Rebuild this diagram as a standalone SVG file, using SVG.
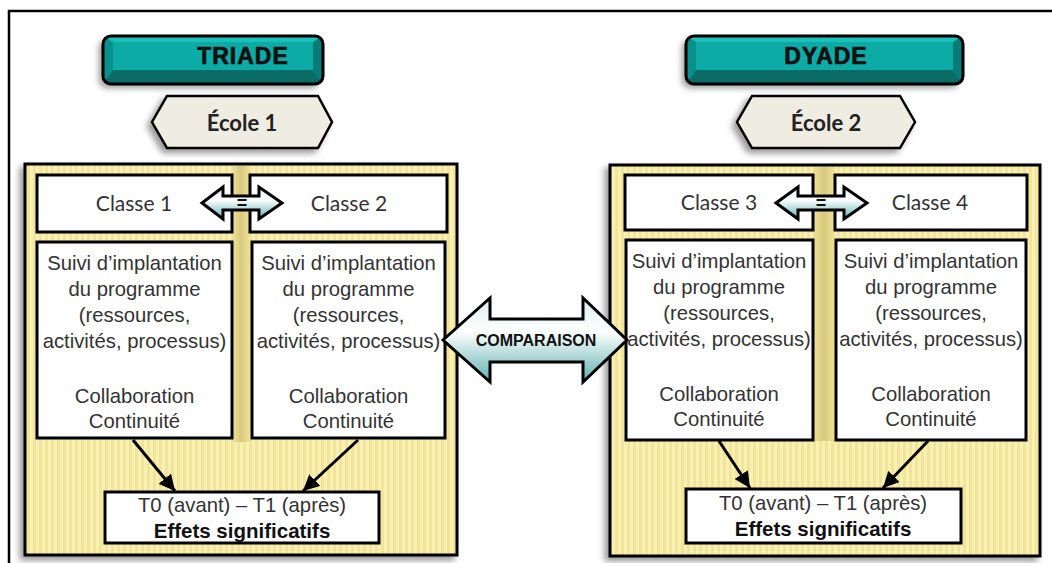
<svg xmlns="http://www.w3.org/2000/svg" width="1052" height="563" viewBox="0 0 1052 563">
<defs>
<style>
.frame{fill:none;stroke:#000;stroke-width:2.5}
.panel{fill:url(#stripes);stroke:#000;stroke-width:3}
.box{fill:#fff;stroke:#000;stroke-width:3}
.hex{fill:#efede2;stroke:#000;stroke-width:2.5;stroke-linejoin:miter}
.dbl{fill:url(#tealgrad);stroke:#000;stroke-width:3;stroke-linejoin:miter}
.conn{stroke:#000;stroke-width:3;fill:none}
.cls{font-family:Lato,"Liberation Sans",sans-serif;font-size:21px;fill:#333;text-anchor:middle}
.ecole{font-family:Lato,"Liberation Sans",sans-serif;font-size:22px;font-weight:bold;fill:#222;text-anchor:middle}
.body{font-family:"Liberation Sans",Arial,sans-serif;font-size:20.3px;fill:#333;text-anchor:middle}
.bold{font-family:"Liberation Sans",Arial,sans-serif;font-size:20.5px;font-weight:bold;fill:#111;text-anchor:middle}
.title{font-family:"Liberation Sans",Arial,sans-serif;font-size:23px;font-weight:bold;fill:#111;text-anchor:middle;stroke:#111;stroke-width:0.7;letter-spacing:1px}
.eq{font-family:"Liberation Sans",Arial,sans-serif;font-size:18px;font-weight:bold;fill:#111;text-anchor:middle}
.cmp{font-family:"Liberation Sans",Arial,sans-serif;font-size:16px;font-weight:bold;fill:#111;text-anchor:middle}
</style>
<pattern id="stripes" patternUnits="userSpaceOnUse" width="6" height="10">
<rect x="0" y="0" width="3" height="10" fill="#f9f0b2"/>
<rect x="3" y="0" width="3" height="10" fill="#f1e59c"/>
</pattern>
<linearGradient id="tealgrad" x1="0" y1="0" x2="0" y2="1">
<stop offset="0" stop-color="#dcefef"/>
<stop offset="0.4" stop-color="#ffffff"/>
<stop offset="1" stop-color="#5eb0b0"/>
</linearGradient>
<linearGradient id="spine" x1="0" y1="0" x2="1" y2="0">
<stop offset="0" stop-color="#efe296"/>
<stop offset="0.5" stop-color="#d8c97f"/>
<stop offset="1" stop-color="#efe296"/>
</linearGradient>
<filter id="shadow" x="-10%" y="-10%" width="120%" height="130%">
<feDropShadow dx="-4" dy="4" stdDeviation="3" flood-color="#000" flood-opacity="0.4"/>
</filter>
<marker id="arrow" markerUnits="userSpaceOnUse" markerWidth="18" markerHeight="16" refX="16" refY="8" orient="auto">
<path d="M0,0 L16,8 L0,16 Z" fill="#000"/>
</marker>
<clipPath id="btn1"><rect x="103" y="36" width="220" height="48" rx="8"/></clipPath>
<clipPath id="btn2"><rect x="686" y="36" width="277" height="48" rx="8"/></clipPath>
</defs>

<rect width="1052" height="563" fill="#fff"/>
<path class="frame" d="M9,565 L9,11 L1054,11"/>

<g id="triade">
<g filter="url(#shadow)">
<rect x="103" y="36" width="220" height="48" rx="8" fill="#0aaba5"/>
</g>
<g clip-path="url(#btn1)">
<polygon points="103,36 323,36 313,42 113,42" fill="#18c2bb"/>
<polygon points="103,36 113,42 113,70 103,84" fill="#08918c"/>
<polygon points="323,36 313,42 313,70 323,84" fill="#087c78"/>
<polygon points="103,84 113,70 313,70 323,84" fill="#0a6b67"/>
</g>
<rect x="103" y="36" width="220" height="48" rx="8" fill="none" stroke="#000" stroke-width="3"/>
<text class="title" x="243" y="64">TRIADE</text>
</g>

<g id="dyade">
<g filter="url(#shadow)">
<rect x="686" y="36" width="277" height="48" rx="8" fill="#0aaba5"/>
</g>
<g clip-path="url(#btn2)">
<polygon points="686,36 963,36 953,42 696,42" fill="#18c2bb"/>
<polygon points="686,36 696,42 696,70 686,84" fill="#08918c"/>
<polygon points="963,36 953,42 953,70 963,84" fill="#087c78"/>
<polygon points="686,84 696,70 953,70 963,84" fill="#0a6b67"/>
</g>
<rect x="686" y="36" width="277" height="48" rx="8" fill="none" stroke="#000" stroke-width="3"/>
<text class="title" x="826" y="64">DYADE</text>
</g>

<g id="ecole1">
<polygon class="hex" filter="url(#shadow)" points="152,122 167,96 318,96 332,122 318,148 167,148"/>
<text class="ecole" x="242" y="131">École 1</text>
</g>

<g id="ecole2">
<polygon class="hex" filter="url(#shadow)" points="737,122 752,96 900,96 915,122 900,148 752,148"/>
<text class="ecole" x="826" y="131">École 2</text>
</g>

<g id="panel-left">
<rect class="panel" filter="url(#shadow)" x="25" y="164" width="432" height="391"/>
<rect x="232" y="166" width="18" height="276" fill="url(#spine)"/>
</g>
<g id="panel-right">
<rect class="panel" filter="url(#shadow)" x="610" y="165" width="430" height="391"/>
<rect x="813" y="167" width="22" height="274" fill="url(#spine)"/>
</g>

<g id="classe1"><rect class="box" x="37" y="175" width="195" height="57"/><text class="cls" x="134" y="211">Classe 1</text></g>
<g id="classe2"><rect class="box" x="250" y="175" width="197" height="57"/><text class="cls" x="349" y="211">Classe 2</text></g>
<g id="classe3"><rect class="box" x="625" y="175" width="188" height="55"/><text class="cls" x="719" y="210">Classe 3</text></g>
<g id="classe4"><rect class="box" x="835" y="175" width="192" height="55"/><text class="cls" x="930" y="210">Classe 4</text></g>

<g id="suivi1">
<rect class="box" x="37" y="242" width="195" height="196"/>
<text class="body" x="134.5"><tspan x="134.5" y="270">Suivi d’implantation</tspan><tspan x="134.5" y="296">du programme</tspan><tspan x="134.5" y="322">(ressources,</tspan><tspan x="134.5" y="348">activités,  processus)</tspan><tspan x="134.5" y="403">Collaboration</tspan><tspan x="134.5" y="428">Continuité</tspan></text>
</g>
<g id="suivi2">
<rect class="box" x="252" y="242" width="193" height="196"/>
<text class="body" x="348.5"><tspan x="348.5" y="270">Suivi d’implantation</tspan><tspan x="348.5" y="296">du programme</tspan><tspan x="348.5" y="322">(ressources,</tspan><tspan x="348.5" y="348">activités,  processus)</tspan><tspan x="348.5" y="403">Collaboration</tspan><tspan x="348.5" y="428">Continuité</tspan></text>
</g>
<g id="suivi3">
<rect class="box" x="626" y="240" width="187" height="200"/>
<text class="body" x="719"><tspan x="719" y="268">Suivi d’implantation</tspan><tspan x="719" y="294">du programme</tspan><tspan x="719" y="320">(ressources,</tspan><tspan x="719" y="346">activités,  processus)</tspan><tspan x="719" y="401">Collaboration</tspan><tspan x="719" y="426">Continuité</tspan></text>
</g>
<g id="suivi4">
<rect class="box" x="836" y="240" width="190" height="200"/>
<text class="body" x="931"><tspan x="931" y="268">Suivi d’implantation</tspan><tspan x="931" y="294">du programme</tspan><tspan x="931" y="320">(ressources,</tspan><tspan x="931" y="346">activités,  processus)</tspan><tspan x="931" y="401">Collaboration</tspan><tspan x="931" y="426">Continuité</tspan></text>
</g>

<g id="result1">
<rect class="box" x="105" y="492" width="274" height="51"/>
<text class="body" x="242" y="512">T0 (avant) – T1 (après)</text>
<text class="bold" x="242" y="538">Effets significatifs</text>
</g>
<g id="result2">
<rect class="box" x="686" y="489" width="275" height="54"/>
<text class="body" x="823" y="510">T0 (avant) – T1 (après)</text>
<text class="bold" x="823" y="536">Effets significatifs</text>
</g>

<g id="connectors">
<path class="dbl" d="M202,203 L223,187 L223,196 L259,196 L259,187 L282,203 L259,219 L259,210 L223,210 L223,219 Z"/>
<text class="eq" x="242" y="209">=</text>
<path class="dbl" d="M776,203 L798,187 L798,196 L844,196 L844,187 L867,203 L844,219 L844,210 L798,210 L798,219 Z"/>
<text class="eq" x="821" y="209">=</text>
<path class="dbl" d="M443,340 L490,298 L490,319 L583,319 L583,298 L627,340 L583,382 L583,362 L490,362 L490,382 Z"/>
<text class="cmp" x="536" y="346">COMPARAISON</text>
<line class="conn" x1="133" y1="440" x2="175" y2="491" marker-end="url(#arrow)"/>
<line class="conn" x1="358" y1="440" x2="303" y2="491" marker-end="url(#arrow)"/>
<line class="conn" x1="719" y1="441" x2="750" y2="488" marker-end="url(#arrow)"/>
<line class="conn" x1="928" y1="441" x2="883" y2="488" marker-end="url(#arrow)"/>
</g>
</svg>
